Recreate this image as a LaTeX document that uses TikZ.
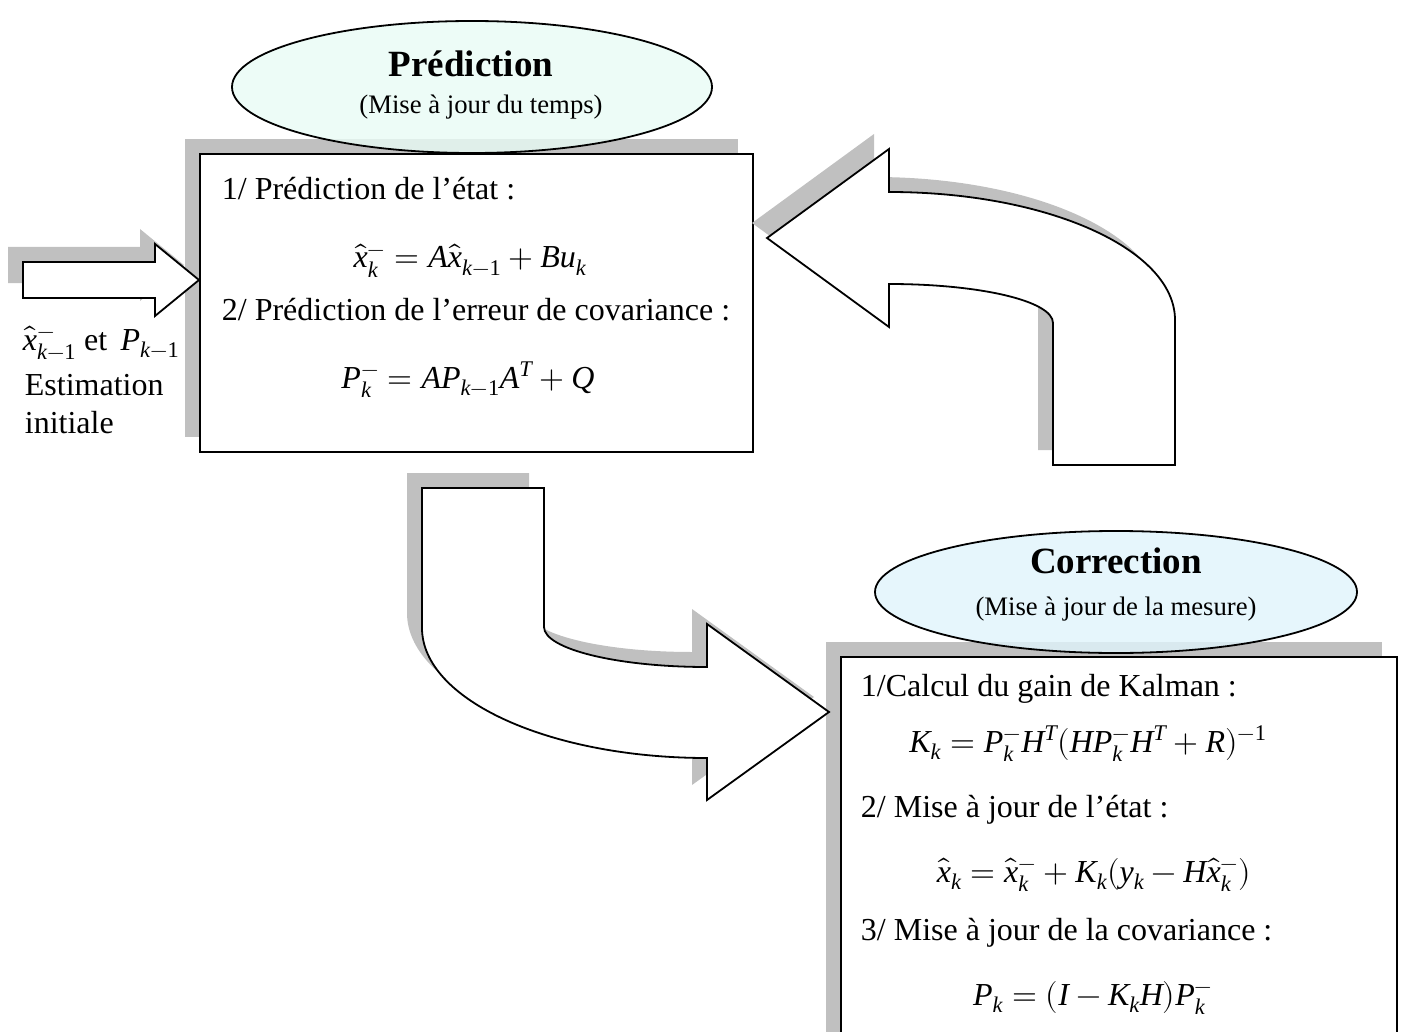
\documentclass[tikz,border=0pt]{standalone}
\usepackage{fontspec}
\usepackage{unicode-math}
\setmainfont{Liberation Serif}
\setmathfont{Latin Modern Math}
\setmathfont[range=it/{latin,Latin}]{Liberation Serif Italic}
\setmathfont[range=up/num]{Liberation Serif}
\usetikzlibrary{shapes.geometric}
\definecolor{ombre}{HTML}{C0C0C0}
\definecolor{vertclair}{HTML}{E8FBF5}
\definecolor{bleuclair}{HTML}{E0F4FB}
\newcommand{\corps}{\fontsize{32}{38}\selectfont}
\begin{document}
\begin{tikzpicture}[x=1pt,y=-1pt,line width=1.8pt,
  ombrage/.style={preaction={fill=ombre,draw=none,transform canvas={xshift=-15pt,yshift=15pt}}},
  bloc/.style={draw,fill=white,ombrage},
  bulle/.style={draw,ellipse,fill opacity=.8,inner sep=0pt,minimum width=480pt},
  texte/.style={anchor=base west,inner sep=0pt,font=\corps},
  formule/.style={anchor=base,inner sep=0pt,font=\corps},
  titre/.style={anchor=base,inner sep=0pt,font=\fontsize{37}{40}\selectfont\bfseries},
  sous/.style={anchor=base,inner sep=0pt,font=\fontsize{26.7}{30}\selectfont}]
\useasboundingbox (0,0) rectangle (1402,1032);

\node[bloc,rectangle,minimum width=553pt,minimum height=298pt,inner sep=0pt] (pred) at (476.5,303) {};
\node[bloc,rectangle,minimum width=556pt,minimum height=390pt,inner sep=0pt] (corr) at (1119,852) {};

\node[bulle,fill=vertclair,minimum height=132pt] (bpred) at (472,87) {};
\node[bulle,fill=bleuclair,minimum height=122pt,minimum width=482pt] (bcorr) at (1116,592) {};

\path[bloc] (23,262) -- (155,262) -- (155,244) -- (199,280) -- (155,316) -- (155,298) -- (23,298) -- cycle;
\path[bloc] (767,238) -- (889,149) -- (889,192) .. controls (1047,192) and (1175,249) .. (1175,320) -- (1175,465) -- (1053,465) -- (1053,323) .. controls (1053,301) and (980,284) .. (889,284) -- (889,327) -- cycle;
\path[bloc] (422,488) -- (544,488) -- (544,627) .. controls (544,649) and (617,667) .. (707,667) -- (707,624) -- (829,712) -- (707,800) -- (707,758) .. controls (550,758) and (422,700) .. (422,628) -- cycle;

\node[titre] (t1) at (471,77) {Prédiction};
\node[sous] (s1) at (481,114) {(Mise à jour du temps)};
\node[titre] (t2) at (1116,573) {Correction};
\node[sous] (s2) at (1116,615) {(Mise à jour de la mesure)};

\node[texte] (l1) at (22,350) {$\hat{x}_{k-1}^-$\ et\ \,$P_{k-1}$};
\node[texte] (l2) at (24,395) {Estimation};
\node[texte] (l3) at (24,433) {initiale};

\node[texte] (p1) at (221,200) {1/ Prédiction de l’état :};
\node[formule] (f1) at (470,268) {$\hat{x}_k^- = A\hat{x}_{k-1} + Bu_k$};
\node[texte] (p2) at (221,320) {2/ Prédiction de l’erreur de covariance :};
\node[formule] (f2) at (468,388) {$P_k^- = AP_{k-1}A^T + Q$};

\node[texte] (c1) at (860,696) {1/Calcul du gain de Kalman :};
\node[formule] (f3) at (1088,752) {$K_k = P_k^- H^T(HP_k^- H^T + R)^{-1}$};
\node[texte] (c2) at (860,817) {2/ Mise à jour de l’état :};
\node[formule] (f4) at (1094,882) {$\hat{x}_k = \hat{x}_k^- + K_k(y_k - H\hat{x}_k^-)$};
\node[texte] (c3) at (860,940) {3/ Mise à jour de la covariance :};
\node[formule] (f5) at (1093,1005) {$P_k = (I - K_kH)P_k^-$};
\end{tikzpicture}
\end{document}
